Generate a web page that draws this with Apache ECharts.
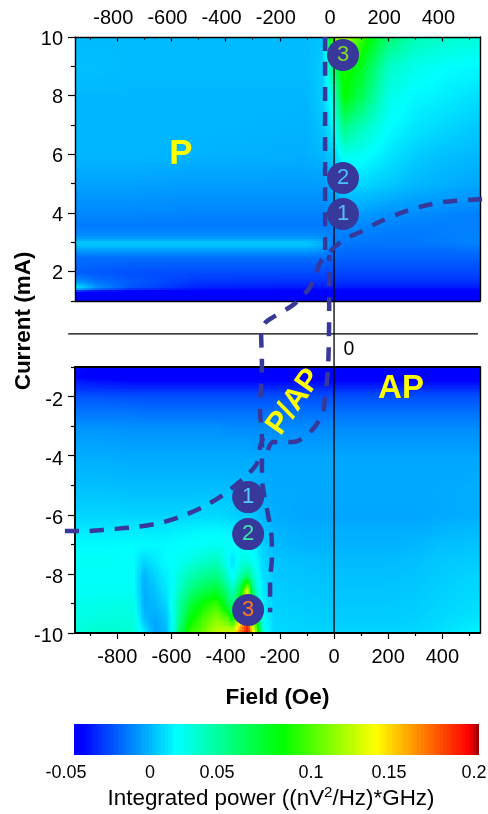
<!DOCTYPE html>
<html><head><meta charset="utf-8">
<style>html,body{margin:0;padding:0;background:#fff}#c{width:488px;height:814px}</style>
<script src="https://cdn.jsdelivr.net/npm/echarts@6/dist/echarts.min.js"></script>
</head><body><div id="c"></div>
<script>
// Values are in units of 0.001 (nV^2/Hz)*GHz
var topFields = [-956,-880,-750,-500,-100,-40,0,40,100,200,300,400,539];
var topCurrents = [1,1.35,1.5,1.7,2,2.5,2.8,3,3.25,3.6,4,5,6,7,8,9,10];
var topPower = [
 [-50,-50,-50,-50,-50,-50,-50,-50,-50,-50,-50,-50,-50],
 [-46,-49,-50,-50,-50,-50,-50,-50,-50,-50,-50,-50,-50],
 [12,-10,-26,-38,-40,-40,-40,-40,-40,-40,-40,-40,-40],
 [-8,-18,-24,-33,-34,-34,-34,-34,-34,-34,-34,-34,-34],
 [-23,-25,-27,-28,-28,-28,-29,-29,-29,-29,-29,-29,-29],
 [-20,-20,-20,-20,-20,-20,-22,-23,-23,-23,-23,-23,-23],
 [-9,-8,-8,-8,-8,-10,-19,-20,-20,-20,-20,-20,-19],
 [2,2,2,2,2,-4,-17,-18,-18,-18,-18,-17,-15],
 [-12,-12,-12,-12,-12,-13,-16,-16,-16,-17,-17,-16,-15],
 [-17,-17,-17,-17,-17,-17,-16,-14,-14,-15,-16,-16,-16],
 [-14,-14,-14,-15,-15,-15,-12,-9,-9,-12,-13,-14,-16],
 [-8,-8,-8,-9,-9,-9,-5,3,4,1,-3,-5,-7],
 [-3,-3,-3,-4,-5,-3,2,18,16,8,2,-1,-3],
 [-3,-3,-3,-3,-4,0,12,45,32,14,8,5,1],
 [-3,-3,-3,-3,-3,2,20,78,58,20,12,10,6],
 [-1,-1,-2,-2,-2,2,50,85,72,28,18,14,12],
 [-2,-2,-2,-2,-2,0,110,120,92,50,32,26,22]
];
var bottomFields = [-956,-850,-740,-700,-660,-620,-590,-540,-480,-430,-390,-372,-345,-317,-290,-260,-220,-100,0,100,200,300,400,539];
var bottomCurrents = [-10,-9.5,-9,-8.5,-8,-7.5,-7,-6.5,-6,-5,-4,-3.5,-3,-2.5,-2,-1.8,-1.5,-1.3,-1];
var bottomPower = [
 [24,27,26,12,-8,-3,22,88,105,125,130,140,175,198,135,20,5,4,4,4,4,5,7,12],
 [20,22,22,0,-7,-1,18,72,95,110,100,80,130,180,80,14,4,3,2,2,2,3,5,8],
 [18,19,20,-5,-3,3,20,58,82,92,62,50,90,165,40,10,3,2,1,1,1,2,4,6],
 [15,16,16,-5,0,8,16,42,60,66,45,28,60,130,30,8,2,1,0,0,0,1,3,5],
 [14,15,15,-4,4,10,15,30,40,45,25,12,30,48,20,6,1,0,-1,-1,-1,0,2,4],
 [16,16,14,4,9,13,14,19,26,30,14,6,18,22,14,4,0,-1,-2,-2,-2,-1,1,2],
 [13,13,13,13,12,13,13,14,15,17,16,14,14,13,10,3,-2,-4,-4,-4,-4,-3,-1,0],
 [9,9,9,9,9,9,10,11,12,12,11,10,9,8,5,0,-3,-5,-5,-5,-5,-5,-3,-2],
 [4,4,4,4,4,4,4,4,5,5,4,3,2,1,0,-3,-5,-7,-7,-7,-7,-7,-6,-5],
 [-1,-1,-2,-2,-2,-2,-2,-2,-2,-2,-2,-2,-2,-3,-4,-5,-6,-6,-6,-6,-6,-6,-6,-5],
 [-5,-5,-6,-6,-6,-6,-6,-6,-6,-6,-6,-6,-6,-6,-6,-7,-7,-7,-7,-7,-7,-7,-7,-7],
 [-8,-8,-9,-9,-9,-9,-9,-9,-9,-9,-9,-9,-9,-9,-10,-10,-10,-10,-10,-10,-10,-10,-10,-10],
 [-11,-11,-12,-12,-12,-12,-12,-12,-12,-12,-13,-13,-13,-13,-13,-13,-13,-13,-13,-13,-13,-13,-13,-13],
 [-18,-18,-18,-19,-19,-19,-19,-19,-19,-19,-19,-19,-19,-19,-19,-19,-19,-19,-19,-19,-19,-19,-19,-19],
 [-25,-25,-26,-26,-26,-26,-26,-26,-26,-26,-26,-26,-26,-26,-26,-26,-26,-26,-26,-26,-26,-26,-26,-26],
 [-30,-31,-31,-31,-31,-31,-31,-31,-31,-31,-31,-31,-31,-31,-31,-31,-31,-31,-31,-31,-31,-31,-31,-31],
 [-38,-40,-42,-42,-42,-42,-42,-42,-42,-42,-42,-42,-42,-42,-42,-42,-42,-42,-42,-42,-42,-42,-42,-42],
 [-44,-47,-50,-50,-50,-50,-50,-50,-50,-50,-50,-50,-50,-50,-50,-50,-50,-50,-50,-50,-50,-50,-50,-50],
 [-42,-48,-50,-50,-50,-50,-50,-50,-50,-50,-50,-50,-50,-50,-50,-50,-50,-50,-50,-50,-50,-50,-50,-50]
];
var fieldTicks = [-800,-600,-400,-200,0,200,400];
var fieldMinorTicks = [-900,-700,-500,-300,-100,100,300,500];
var topCurrentTicks = [2,4,6,8,10];
var topCurrentMinor = [1,3,5,7,9];
var bottomCurrentTicks = [-10,-8,-6,-4,-2];
var bottomCurrentMinor = [-9,-7,-5,-3,-1];
var colorbarLabels = ['-0.05','0','0.05','0.1','0.15','0.2'];
var colorStops = [[0,0,0,255],[0.02,0,0,255],[0.254,0,255,255],[0.515,0,255,0],[0.745,255,255,0],[0.975,255,0,0],[1,140,0,0]];
// Boundary curves: field (Oe), current (mA)
var curveMainField = [546,402,317,244,159,89,48,11,-15,-52,-70,-96,-151,-225,-255,-269,-266,-273,-266,-266,-247,-232,-229,-236,-236];
var curveMainCurrent = [4.56,4.46,4.30,4.09,3.76,3.42,3.26,3.02,2.79,2.42,1.95,1.51,1.01,0.60,0.40,0.07,-1.0,-2.52,-3.52,-4.77,-5.87,-6.61,-7.42,-8.29,-9.30];
var curveLeftField = [-993,-926,-815,-727,-631,-550,-469,-395,-321,-284,-273,-262];
var curveLeftCurrent = [-6.58,-6.58,-6.51,-6.44,-6.28,-6.04,-5.70,-5.27,-4.70,-4.30,-3.76,-3.46];
var curveInnerField = [-244,-225,-151,-89,-44,-33,-22,-18,-18,-18];
var curveInnerCurrent = [-3.86,-3.59,-3.59,-3.26,-2.68,-2.08,-1.07,0.94,2.28,2.68];
var curveVerticalField = [-33,-33];
var curveVerticalCurrent = [10,2.85];
var markerFields = [33,33,33,-317,-317,-317];
var markerCurrents = [4.06,5.27,9.40,-5.44,-6.68,-9.23];
var markerLabels = ['1','2','3','1','2','3'];

var FONT = '"Liberation Sans", Arial, Helvetica, sans-serif';
var DASH = '#38389a';
var FMIN = -956, FMAX = 539;

function rgb(v) {
  var t = (v + 50) / 250; t = Math.max(0, Math.min(1, t));
  for (var i = 1; i < colorStops.length; i++) {
    if (t <= colorStops[i][0]) {
      var a = colorStops[i-1], b = colorStops[i], f = (t - a[0]) / (b[0] - a[0]);
      return 'rgb(' + Math.round(a[1]+(b[1]-a[1])*f) + ',' + Math.round(a[2]+(b[2]-a[2])*f) + ',' + Math.round(a[3]+(b[3]-a[3])*f) + ')';
    }
  }
  return 'rgb(140,0,0)';
}
var barSteps = [];
for (var k = 0; k < 125; k++) barSteps.push([-0.05 + k * 0.002, 0]);

function nodes(xs, ys, vals) {
  var out = [];
  for (var j = 0; j < ys.length; j++) for (var i = 0; i < xs.length; i++) out.push([xs[i], ys[j], vals[j][i] / 1000]);
  return out;
}
function heatSeries(xs, ys, vals, xi, yi) {
  var nx = xs.length;
  return {
    type: 'custom', xAxisIndex: xi, yAxisIndex: yi, z: 1, silent: true, clip: true, animation: false,
    encode: { x: 0, y: 1 }, dimensions: ['field', 'current', 'power'],
    data: nodes(xs, ys, vals),
    renderItem: function (params, api) {
      var n = params.dataIndex, i = n % nx, j = Math.floor(n / nx);
      if (i >= nx - 1 || j >= ys.length - 1) return null;
      var x0 = xs[i], x1 = xs[i+1], y0 = ys[j], y1 = ys[j+1];
      var p0 = api.coord([x0, y0]), p1 = api.coord([x1, y1]);
      var su = Math.max(1, Math.ceil(Math.abs(p1[0]-p0[0]) / 2.5));
      var sv = Math.max(1, Math.ceil(Math.abs(p1[1]-p0[1]) / 2.5));
      var kids = [];
      var a = vals[j][i], b = vals[j][i+1], c = vals[j+1][i], d = vals[j+1][i+1];
      for (var u = 0; u < su; u++) for (var v = 0; v < sv; v++) {
        var fu = (u + .5) / su, fv = (v + .5) / sv;
        var val = a*(1-fu)*(1-fv) + b*fu*(1-fv) + c*(1-fu)*fv + d*fu*fv;
        var q0 = api.coord([x0 + (x1-x0)*u/su, y0 + (y1-y0)*(v+1)/sv]);
        var q1 = api.coord([x0 + (x1-x0)*(u+1)/su, y0 + (y1-y0)*v/sv]);
        var l = Math.floor(q0[0]), t = Math.floor(q0[1]);
        kids.push({ type: 'rect', shape: { x: l, y: t, width: Math.ceil(q1[0]) - l + 1, height: Math.ceil(q1[1]) - t + 1 }, style: { fill: rgb(val) } });
      }
      return { type: 'group', children: kids };
    }
  };
}
var axLine = { show: true, onZero: false, lineStyle: { color: '#000', width: 1.4 } };
var axLineB = { show: true, onZero: false, lineStyle: { color: '#000', width: 1.9 } };
var noLine = { show: false, onZero: false };
var lab = { fontFamily: FONT, fontSize: 20, color: '#000' };
function xAx(grid, pos, o) {
  return Object.assign({ type: 'value', gridIndex: grid, position: pos, min: FMIN, max: FMAX, splitLine: { show: false }, axisLine: axLine, axisTick: { show: false }, axisLabel: { show: false }, z: 4 }, o || {});
}
function yAx(grid, pos, mn, mx, o) {
  return Object.assign({ type: 'value', gridIndex: grid, position: pos, min: mn, max: mx, splitLine: { show: false }, axisLine: axLine, axisTick: { show: false }, axisLabel: { show: false }, z: 4 }, o || {});
}
function dashed(xs, ys, name) {
  return { type: 'line', name: name, xAxisIndex: 6, yAxisIndex: 6, z: 10, clip: false, smooth: 0.3, symbol: 'none', silent: true, animation: false,
    lineStyle: { color: DASH, width: 4.5, type: [14, 11], cap: 'butt' },
    data: xs.map(function (x, i) { return [x, ys[i]]; }) };
}
function textPoint(x, y, text, size, bold, color, rot) {
  return { value: [x, y], label: { show: true, position: 'inside', formatter: text, fontFamily: FONT, fontSize: size, fontWeight: bold ? 'bold' : 'normal', color: color, rotate: rot || 0, textBorderWidth: 0 } };
}
function barLabel(i, px) {
  return { type: 'text', x: px, y: 773.5, z: 20, style: { text: colorbarLabels[i], align: 'center', verticalAlign: 'middle', font: '18px ' + FONT, fill: '#000' } };
}
var markerColors = ['#55bdf8','#4cc0ff','#7fd92a','#55c8ff','#3fe8b0','#ff7a1a'];

var chart = echarts.init(document.getElementById('c'), null, { renderer: 'canvas' });
chart.setOption({
  animation: false,
  backgroundColor: '#fff',
  grid: [
    { left: 75, top: 37, width: 405, height: 264 },
    { left: 75, top: 37, width: 405, height: 264 },
    { left: 75, top: 367, width: 405, height: 266 },
    { left: 75, top: 367, width: 405, height: 266 },
    { left: 50, top: 37, width: 438, height: 596 },
    { left: 74, top: 724, width: 405, height: 31 },
    { left: 75, top: 39, width: 405, height: 264 },
    { left: 75, top: 370.5, width: 405, height: 266 }
  ],
  xAxis: [
    xAx(0, 'top', { axisTick: { show: true, inside: true, length: 4.5, customValues: fieldTicks, lineStyle: { color: '#000', width: 1.2 } }, axisLabel: Object.assign({ show: true, margin: 9, customValues: fieldTicks, padding: [0, 8, 0, 0] }, lab) }),
    xAx(0, 'bottom'),
    xAx(1, 'top', { axisLine: noLine, axisTick: { show: true, inside: true, length: 2.5, customValues: fieldMinorTicks, lineStyle: { color: '#000', width: 1.2 } } }),
    xAx(2, 'bottom', { axisLine: axLineB, axisTick: { show: true, length: 6, customValues: fieldTicks, lineStyle: { color: '#000', width: 1.2 } }, axisLabel: Object.assign({ show: true, margin: 14, customValues: fieldTicks }, lab),
      name: 'Field (Oe)', nameLocation: 'middle', nameGap: 53, nameTextStyle: { fontFamily: FONT, fontSize: 22.5, fontWeight: 'bold', color: '#000' } }),
    xAx(2, 'top', { axisLine: axLineB }),
    xAx(3, 'bottom', { axisLine: noLine, axisTick: { show: true, length: 3, customValues: fieldMinorTicks, lineStyle: { color: '#000', width: 1.2 } } }),
    { type: 'value', gridIndex: 4, show: false, min: -1048, max: 568, position: 'bottom' },
    { type: 'value', gridIndex: 5, show: false, min: -0.05, max: 0.2, position: 'bottom' },
    xAx(6, 'bottom', { show: false }),
    xAx(7, 'bottom', { show: false })
  ],
  yAxis: [
    yAx(0, 'left', 1, 10, { axisTick: { show: true, length: 7, customValues: topCurrentTicks, lineStyle: { color: '#000', width: 1.2 } } }),
    yAx(0, 'right', 1, 10),
    yAx(1, 'left', 1, 10, { axisLine: noLine, axisTick: { show: true, length: 4, customValues: topCurrentMinor, lineStyle: { color: '#000', width: 1.2 } } }),
    yAx(2, 'left', -10, -1, { axisLine: axLineB, axisTick: { show: true, length: 7, customValues: bottomCurrentTicks, lineStyle: { color: '#000', width: 1.2 } } }),
    yAx(2, 'right', -10, -1),
    yAx(3, 'left', -10, -1, { axisLine: noLine, axisTick: { show: true, length: 4, customValues: bottomCurrentMinor, lineStyle: { color: '#000', width: 1.2 } } }),
    { type: 'value', gridIndex: 4, show: false, min: -10, max: 10, position: 'left' },
    { type: 'value', gridIndex: 5, show: false, min: 0, max: 1, position: 'left' },
    yAx(6, 'left', 1, 10, { axisLine: noLine, axisLabel: Object.assign({ show: true, margin: 12, customValues: topCurrentTicks }, lab) }),
    yAx(7, 'left', -10, -1, { axisLine: noLine, axisLabel: Object.assign({ show: true, margin: 12, customValues: bottomCurrentTicks }, lab) })
  ],
  series: [
    heatSeries(topFields, topCurrents, topPower, 0, 0),
    heatSeries(bottomFields, bottomCurrents, bottomPower, 3, 3),
    { type: 'custom', xAxisIndex: 7, yAxisIndex: 7, silent: true, encode: { x: 0, y: 1 }, data: barSteps,
      renderItem: function (params, api) {
        var v = api.value(0), a = api.coord([v, 1]), b = api.coord([v + 0.002, 0]);
        var l = Math.round(a[0]), r = params.dataIndex === barSteps.length - 1 ? Math.round(b[0]) : Math.round(b[0]) + 1;
        return { type: 'rect', shape: { x: l, y: a[1], width: r - l, height: b[1]-a[1] }, style: { fill: rgb(v * 1000 + 1) } };
      } },
    { type: 'line', xAxisIndex: 6, yAxisIndex: 6, z: 6, symbol: 'none', silent: true, clip: false, lineStyle: { color: '#000', width: 1.3 }, data: [[0, 10], [0, -10]] },
    { type: 'line', xAxisIndex: 6, yAxisIndex: 6, z: 6, symbol: 'none', silent: true, clip: false, lineStyle: { color: '#000', width: 1.3 }, data: [[-981, 0.04], [531, 0.04]] },
    dashed(curveMainField, curveMainCurrent, 'main'),
    dashed(curveLeftField, curveLeftCurrent, 'left'),
    dashed(curveInnerField, curveInnerCurrent, 'inner'),
    dashed(curveVerticalField, curveVerticalCurrent, 'vertical'),
    { type: 'scatter', xAxisIndex: 6, yAxisIndex: 6, z: 11, symbolSize: 32, silent: true, clip: false, itemStyle: { color: DASH, opacity: 1 },
      data: markerFields.map(function (x, i) {
        return { value: [x, markerCurrents[i]], label: { show: true, position: 'inside', formatter: markerLabels[i], fontFamily: FONT, fontSize: 22, color: markerColors[i], textBorderWidth: 0 } };
      }) },
    { type: 'scatter', xAxisIndex: 6, yAxisIndex: 6, z: 12, symbolSize: 1, silent: true, clip: false, itemStyle: { color: 'rgba(0,0,0,0)', opacity: 1 },
      data: [
        textPoint(-565, 6.07, 'P', 35, true, '#ffff00'),
        textPoint(247, -1.8, 'AP', 33, true, '#ffff00'),
        textPoint(-147, -2.25, 'P/AP', 31, true, '#ffff00', 55),
        textPoint(55, -0.5, '0', 19.5, false, '#000')
      ] }
  ],
  graphic: [
    { type: 'text', x: 24, y: 321, rotation: Math.PI / 2, z: 20, style: { text: 'Current (mA)', align: 'center', verticalAlign: 'middle', font: 'bold 22.5px ' + FONT, fill: '#000' } },
    barLabel(0, 66), barLabel(1, 150), barLabel(2, 217), barLabel(3, 311), barLabel(4, 389), barLabel(5, 474),
    { type: 'text', x: 271, y: 799, z: 20, style: {
        text: '{a|Integrated power ((nV}{s|2}{a|/Hz)*GHz)}', align: 'center', verticalAlign: 'middle',
        rich: { a: { font: '22.4px ' + FONT, fill: '#000', color: '#000' }, s: { font: '15px ' + FONT, fill: '#000', color: '#000', padding: [0, 0, 12, 0] } } } }
  ]
});
</script></body></html>
